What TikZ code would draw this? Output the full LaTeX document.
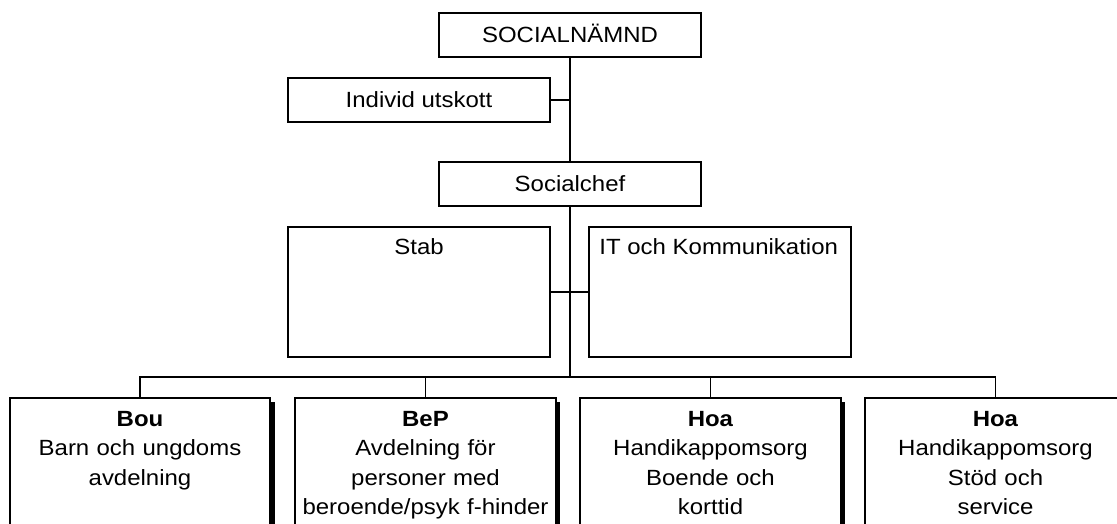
\documentclass[tikz,border=0pt]{standalone}
\usepackage{fontspec}
\setmainfont{Liberation Sans}[FakeStretch=1.09]
\usetikzlibrary{shadows}
\tikzset{
  box/.style={draw=black, line width=1.6pt, fill=white, rectangle, inner sep=0pt,
    font=\fontsize{22}{29.5}\selectfont, text height=15.7pt, text depth=0pt},
  bottombox/.style={box, minimum width=260.5pt, minimum height=220pt, anchor=north,
    drop shadow={shadow xshift=4.5pt, shadow yshift=-4.5pt, fill=black, opacity=1}},
  label/.style={font=\fontsize{22}{29.5}\selectfont, inner sep=0pt},
  multi/.style={label, text width=258pt, align=center, anchor=base},
  conn/.style={line width=1.6pt, draw=black}
}
\begin{document}
\begin{tikzpicture}[x=1pt, y=-1pt]
\useasboundingbox (0,0) rectangle (1117,524);
\clip (0,0) rectangle (1117,524);
% top boxes
\node[box, minimum width=262pt, minimum height=44pt] (nam) at (570,35) {SOCIALNÄMND};
\node[box, minimum width=262pt, minimum height=44pt] (indiv) at (419,100) {Individ utskott};
\node[box, minimum width=262pt, minimum height=44pt] (chef) at (570,184) {Socialchef};
\node[box, minimum width=262pt, minimum height=130pt] (stab) at (419,292) {};
\node[box, minimum width=262pt, minimum height=130pt] (it) at (720,292) {};
\node[label, anchor=base] (stabt) at ([yshift=-28pt]stab.north) {Stab};
\node[label, anchor=base west] (itt) at ([xshift=11pt, yshift=-28pt]it.north west) {IT och Kommunikation};
% bottom boxes
\node[bottombox] (b1) at (140,397) {};
\node[bottombox] (b2) at (425.5,397) {};
\node[bottombox] (b3) at (710.5,397) {};
\node[bottombox] (b4) at (995.5,397) {};
\node[multi] (t1) at ([yshift=-29pt]b1.north) {\textbf{Bou}\\Barn och ungdoms\\avdelning};
\node[multi] (t2) at ([yshift=-29pt]b2.north) {\textbf{BeP}\\Avdelning för\\personer med\\beroende/psyk f-hinder};
\node[multi] (t3) at ([yshift=-29pt]b3.north) {\textbf{Hoa}\\Handikappomsorg\\Boende och\\korttid};
\node[multi] (t4) at ([yshift=-29pt]b4.north) {\textbf{Hoa}\\Handikappomsorg\\Stöd och\\service};
% connectors
\coordinate (bus) at (570,377);
\draw[conn] (nam.south) -- (chef.north);
\draw[conn] (indiv.east) -- (indiv.east -| nam.south);
\draw[conn] (chef.south) -- (bus);
\draw[conn] (stab.east) -- (it.west);
\draw[conn] (b1.north) -- (b1.north |- bus) -- (b4.north |- bus) -- (b4.north);
\draw[conn] (b2.north) -- (b2.north |- bus);
\draw[conn] (b3.north) -- (b3.north |- bus);
\end{tikzpicture}
\end{document}
